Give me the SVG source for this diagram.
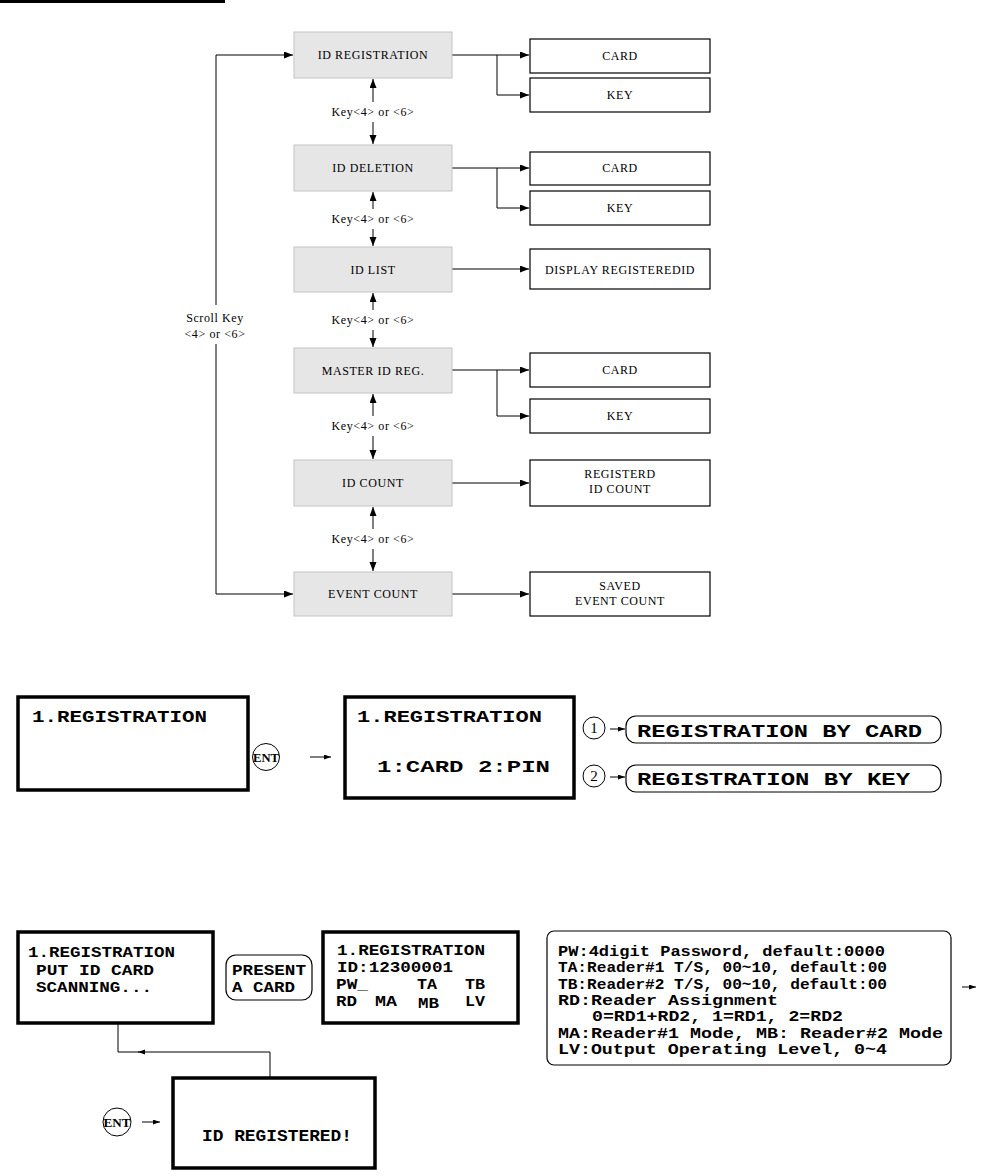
<svg xmlns="http://www.w3.org/2000/svg" width="982" height="1176" viewBox="0 0 982 1176">
<style>
.g{fill:#e6e6e6;stroke:#c4c4c4;stroke-width:1}
.w{fill:#fff;stroke:#000;stroke-width:1.2}
.t{font-family:"Liberation Serif",serif;font-size:12px;text-anchor:middle;letter-spacing:0.6px;fill:#000}
.ln{fill:none;stroke:#000;stroke-width:1}
.lcd{fill:#fff;stroke:#000;stroke-width:3.5}
.thin{fill:#fff;stroke:#000;stroke-width:1.2}
.m{font-family:"Liberation Mono",monospace;font-weight:bold;fill:#000;font-size:17px}
.s{font-size:15.5px}
.c{font-family:"Liberation Serif",serif;font-weight:bold;font-size:13px;text-anchor:middle}
.n{font-family:"Liberation Serif",serif;font-size:15px;text-anchor:middle}
</style>
<defs>
<marker id="ah" markerUnits="userSpaceOnUse" markerWidth="10" markerHeight="8" refX="9" refY="3.5" orient="auto"><path d="M0,0 L9,3.5 L0,7 z" fill="#000"/></marker>
<marker id="as" markerUnits="userSpaceOnUse" markerWidth="8" markerHeight="6" refX="7" refY="2.5" orient="auto"><path d="M0,0 L7,2.5 L0,5 z" fill="#000"/></marker>
</defs>
<rect x="0" y="0" width="225" height="3" fill="#000"/>

<g id="connectors">
<path class="ln" marker-end="url(#ah)" d="M373,102 L373,79"/>
<path class="ln" marker-end="url(#ah)" d="M373,122 L373,144"/>
<path class="ln" marker-end="url(#ah)" d="M373,209 L373,192"/>
<path class="ln" marker-end="url(#ah)" d="M373,229 L373,246"/>
<path class="ln" marker-end="url(#ah)" d="M373,310 L373,293"/>
<path class="ln" marker-end="url(#ah)" d="M373,330 L373,347"/>
<path class="ln" marker-end="url(#ah)" d="M373,416 L373,394"/>
<path class="ln" marker-end="url(#ah)" d="M373,436 L373,459"/>
<path class="ln" marker-end="url(#ah)" d="M373,529 L373,507"/>
<path class="ln" marker-end="url(#ah)" d="M373,549 L373,571"/>
<path class="ln" marker-end="url(#ah)" d="M452,55 L529,55"/>
<path class="ln" marker-end="url(#ah)" d="M497,55 L497,95 L529,95"/>
<path class="ln" marker-end="url(#ah)" d="M452,168 L529,168"/>
<path class="ln" marker-end="url(#ah)" d="M497,168 L497,208 L529,208"/>
<path class="ln" marker-end="url(#ah)" d="M452,269 L529,269"/>
<path class="ln" marker-end="url(#ah)" d="M452,370 L529,370"/>
<path class="ln" marker-end="url(#ah)" d="M497,370 L497,416 L529,416"/>
<path class="ln" marker-end="url(#ah)" d="M452,483 L529,483"/>
<path class="ln" marker-end="url(#ah)" d="M452,594 L529,594"/>
<path class="ln" marker-end="url(#ah)" d="M216,305 L216,55 L293,55"/>
<path class="ln" marker-end="url(#ah)" d="M216,344 L216,594 L293,594"/>
<text class="t" x="373" y="116">Key&lt;4&gt; or &lt;6&gt;</text>
<text class="t" x="373" y="223">Key&lt;4&gt; or &lt;6&gt;</text>
<text class="t" x="373" y="324">Key&lt;4&gt; or &lt;6&gt;</text>
<text class="t" x="373" y="430">Key&lt;4&gt; or &lt;6&gt;</text>
<text class="t" x="373" y="543">Key&lt;4&gt; or &lt;6&gt;</text>
<text class="t" x="215" y="322">Scroll Key</text>
<text class="t" x="215" y="338">&lt;4&gt; or &lt;6&gt;</text>
<path class="ln" marker-end="url(#as)" d="M310,757 L331,757"/>
<path class="ln" marker-end="url(#as)" d="M610,729 L625,729"/>
<path class="ln" marker-end="url(#as)" d="M610,777 L625,777"/>
<path class="ln" marker-end="url(#as)" d="M962,987 L976,987"/>
<path class="ln" marker-end="url(#as)" d="M270,1077 L270,1052 L138,1052"/>
<path class="ln" d="M139,1052 L118,1052 L118,1024"/>
<path class="ln" marker-end="url(#as)" d="M142,1122 L160,1122"/>
</g>

<g id="id-registration"><rect class="g" x="294" y="32" width="158" height="46"/><text class="t" x="373" y="59">ID REGISTRATION</text></g>
<g id="id-deletion"><rect class="g" x="294" y="145" width="158" height="46"/><text class="t" x="373" y="172">ID DELETION</text></g>
<g id="id-list"><rect class="g" x="294" y="247" width="158" height="45"/><text class="t" x="373" y="274">ID LIST</text></g>
<g id="master-id-reg"><rect class="g" x="294" y="348" width="158" height="45"/><text class="t" x="373" y="375">MASTER ID REG.</text></g>
<g id="id-count"><rect class="g" x="294" y="460" width="158" height="46"/><text class="t" x="373" y="487">ID COUNT</text></g>
<g id="event-count"><rect class="g" x="294" y="572" width="158" height="44"/><text class="t" x="373" y="598">EVENT COUNT</text></g>

<g id="card1"><rect class="w" x="530" y="39" width="180" height="34"/><text class="t" x="620" y="60">CARD</text></g>
<g id="key1"><rect class="w" x="530" y="78" width="180" height="34"/><text class="t" x="620" y="99">KEY</text></g>
<g id="card2"><rect class="w" x="530" y="152" width="180" height="33"/><text class="t" x="620" y="172">CARD</text></g>
<g id="key2"><rect class="w" x="530" y="191" width="180" height="34"/><text class="t" x="620" y="212">KEY</text></g>
<g id="display"><rect class="w" x="530" y="249" width="180" height="40"/><text class="t" x="620" y="274">DISPLAY REGISTEREDID</text></g>
<g id="card3"><rect class="w" x="530" y="353" width="180" height="34"/><text class="t" x="620" y="374">CARD</text></g>
<g id="key3"><rect class="w" x="530" y="399" width="180" height="34"/><text class="t" x="620" y="420">KEY</text></g>
<g id="registerd"><rect class="w" x="530" y="460" width="180" height="46"/><text class="t" x="620" y="478">REGISTERD</text><text class="t" x="620" y="493">ID COUNT</text></g>
<g id="saved"><rect class="w" x="530" y="572" width="180" height="44"/><text class="t" x="620" y="590">SAVED</text><text class="t" x="620" y="605">EVENT COUNT</text></g>

<g id="lcd1"><rect class="lcd" x="18" y="697" width="230" height="93"/><text class="m" x="32" y="722" textLength="175" lengthAdjust="spacingAndGlyphs">1.REGISTRATION</text></g>
<g id="ent1"><circle cx="266" cy="757" r="13.5" fill="#fff" stroke="#000" stroke-width="1"/><text class="c" x="266" y="761.5" textLength="26" lengthAdjust="spacingAndGlyphs">ENT</text></g>
<g id="lcd2"><rect class="lcd" x="345" y="697" width="229" height="101"/><text class="m" x="357" y="722" textLength="185" lengthAdjust="spacingAndGlyphs">1.REGISTRATION</text><text class="m" x="377" y="772" textLength="173" lengthAdjust="spacingAndGlyphs">1:CARD 2:PIN</text></g>
<g id="opt1"><circle cx="594" cy="728" r="11" fill="#fff" stroke="#000" stroke-width="1"/><text class="n" x="594" y="733">1</text></g>
<g id="opt2"><circle cx="594" cy="776" r="11" fill="#fff" stroke="#000" stroke-width="1"/><text class="n" x="594" y="781">2</text></g>
<g id="by-card"><rect class="thin" x="626" y="716" width="315" height="27" rx="10"/><text class="m" style="font-size:18px" x="637" y="737" textLength="285" lengthAdjust="spacingAndGlyphs">REGISTRATION BY CARD</text></g>
<g id="by-key"><rect class="thin" x="626" y="765" width="315" height="27" rx="10"/><text class="m" style="font-size:18px" x="637" y="785" textLength="273" lengthAdjust="spacingAndGlyphs">REGISTRATION BY KEY</text></g>

<g id="lcd3"><rect class="lcd" x="18" y="932" width="195" height="91"/><text class="m s" x="28" y="957" textLength="147" lengthAdjust="spacingAndGlyphs">1.REGISTRATION</text><text class="m s" x="36" y="975" textLength="118" lengthAdjust="spacingAndGlyphs">PUT ID CARD</text><text class="m s" x="36" y="992" textLength="116" lengthAdjust="spacingAndGlyphs">SCANNING...</text></g>
<g id="present"><rect class="thin" x="226" y="955" width="86" height="45" rx="10"/><text class="m s" x="232" y="975" textLength="74" lengthAdjust="spacingAndGlyphs">PRESENT</text><text class="m s" x="232" y="992" textLength="63" lengthAdjust="spacingAndGlyphs">A CARD</text></g>
<g id="lcd4"><rect class="lcd" x="323" y="932" width="195" height="91"/><text class="m s" x="337" y="955" textLength="148" lengthAdjust="spacingAndGlyphs">1.REGISTRATION</text><text class="m s" x="337" y="972" textLength="116" lengthAdjust="spacingAndGlyphs">ID:12300001</text><text class="m s" x="336" y="989" textLength="32" lengthAdjust="spacingAndGlyphs">PW_</text><text class="m s" x="417" y="989" textLength="20" lengthAdjust="spacingAndGlyphs">TA</text><text class="m s" x="465" y="989" textLength="20" lengthAdjust="spacingAndGlyphs">TB</text><text class="m s" x="336" y="1006" textLength="21" lengthAdjust="spacingAndGlyphs">RD</text><text class="m s" x="375" y="1006" textLength="22" lengthAdjust="spacingAndGlyphs">MA</text><text class="m s" x="418" y="1008" textLength="21" lengthAdjust="spacingAndGlyphs">MB</text><text class="m s" x="465" y="1006" textLength="20" lengthAdjust="spacingAndGlyphs">LV</text></g>
<g id="info"><rect class="thin" x="547" y="931" width="404" height="134" rx="7"/>
<text class="m s" x="558" y="956" textLength="327" lengthAdjust="spacingAndGlyphs">PW:4digit Password, default:0000</text>
<text class="m s" x="558" y="972" textLength="329" lengthAdjust="spacingAndGlyphs">TA:Reader#1 T/S, 00~10, default:00</text>
<text class="m s" x="558" y="989" textLength="329" lengthAdjust="spacingAndGlyphs">TB:Reader#2 T/S, 00~10, default:00</text>
<text class="m s" x="558" y="1005" textLength="220" lengthAdjust="spacingAndGlyphs">RD:Reader Assignment</text>
<text class="m s" x="592" y="1021" textLength="251" lengthAdjust="spacingAndGlyphs">0=RD1+RD2, 1=RD1, 2=RD2</text>
<text class="m s" x="558" y="1038" textLength="385" lengthAdjust="spacingAndGlyphs">MA:Reader#1 Mode, MB: Reader#2 Mode</text>
<text class="m s" x="558" y="1054" textLength="329" lengthAdjust="spacingAndGlyphs">LV:Output Operating Level, 0~4</text>
</g>
<g id="lcd5"><rect class="lcd" x="173" y="1078" width="202" height="90"/><text class="m" x="202" y="1141" textLength="150" lengthAdjust="spacingAndGlyphs">ID REGISTERED!</text></g>
<g id="ent2"><circle cx="117" cy="1122" r="14" fill="#fff" stroke="#000" stroke-width="1"/><text class="c" x="117" y="1126.5" textLength="27" lengthAdjust="spacingAndGlyphs">ENT</text></g>
</svg>
